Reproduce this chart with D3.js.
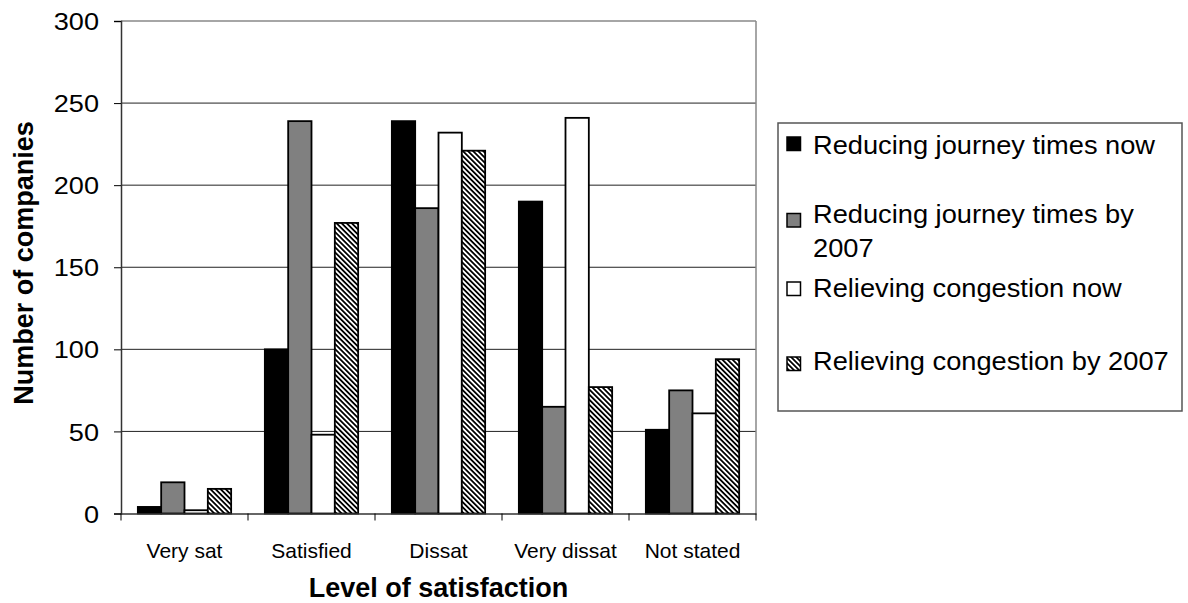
<!DOCTYPE html>
<html><head><meta charset="utf-8">
<script src="https://cdn.jsdelivr.net/npm/d3@7/dist/d3.min.js"></script>
<style>body{margin:0;background:#fff}svg{display:block;font-family:"Liberation Sans",Arial,sans-serif}</style>
</head><body><svg id="c" width="1188" height="603"></svg>
<script>
const categories = ["Very sat","Satisfied","Dissat","Very dissat","Not stated"];
const seriesNames = ["Reducing journey times now","Reducing journey times by 2007","Relieving congestion now","Relieving congestion by 2007"];
const reducingNow   = [4, 100, 239, 190, 51];
const reducing2007  = [19, 239, 186, 65, 75];
const relievingNow  = [2, 48, 232, 241, 61];
const relieving2007 = [15, 177, 221, 77, 94];
const yTicks = [0,50,100,150,200,250,300];
const legendLines = [["Reducing journey times now"],["Reducing journey times by","2007"],["Relieving congestion now"],["Relieving congestion by 2007"]];

const seriesValues = [reducingNow, reducing2007, relievingNow, relieving2007];
const fills = ["#000000","#808080","#ffffff","url(#hatch)"];

const svg = d3.select("#c");
const defs = svg.append("defs");
const pat = defs.append("pattern").attr("id","hatch").attr("patternUnits","userSpaceOnUse")
  .attr("width",3.6).attr("height",3.6).attr("patternTransform","rotate(-45)");
pat.append("rect").attr("width",3.6).attr("height",3.6).attr("fill","#fff");
pat.append("rect").attr("x",0).attr("y",0).attr("width",1.8).attr("height",3.6).attr("fill","#000");

const L=121, R=756, T=21, B=513.5;
const x = d3.scaleBand().domain(categories).range([L,R]);
const xi = d3.scaleBand().domain(d3.range(4)).range([16.85, x.bandwidth()-16.85]);
const y = d3.scaleLinear().domain([0,300]).range([B,T]);

// gridlines
svg.append("g").selectAll("line").data(yTicks.filter(t=>t>0&&t<300)).join("line")
  .attr("x1",L).attr("x2",R).attr("y1",d=>y(d)).attr("y2",d=>y(d))
  .attr("stroke","#222").attr("stroke-width",1);
// top and right border
svg.append("line").attr("x1",L).attr("x2",R).attr("y1",y(300)).attr("y2",y(300)).attr("stroke","#888").attr("stroke-width",1.5);
svg.append("line").attr("x1",R).attr("x2",R).attr("y1",T).attr("y2",B).attr("stroke","#888").attr("stroke-width",1.5);

// bars
const rows = [];
categories.forEach((c,ci)=>seriesValues.forEach((s,si)=>rows.push({c,si,v:s[ci]})));
svg.append("g").selectAll("rect").data(rows).join("rect")
  .attr("x",d=>x(d.c)+xi(d.si)).attr("width",xi.bandwidth())
  .attr("y",d=>y(d.v)).attr("height",d=>B-y(d.v))
  .attr("fill",d=>fills[d.si]).attr("stroke","#000").attr("stroke-width",1.8);

// y axis
const yAxis = d3.axisLeft(y).tickValues(yTicks).tickSize(7).tickPadding(15);
const ya = svg.append("g").attr("transform",`translate(${L},0)`).call(yAxis);
ya.select(".domain").attr("stroke","#333").attr("stroke-width",1.5);
ya.selectAll(".tick line").attr("stroke","#000");
ya.selectAll(".tick text").attr("font-size",24).attr("fill","#000")
  .attr("font-family","'Liberation Sans',Arial,sans-serif")
  .attr("transform","scale(1.13,1)").attr("dy","0.36em").attr("x",-22/1.13);

// x axis
const xAxis = d3.axisBottom(x).tickSize(0).tickPadding(0);
const xa = svg.append("g").attr("transform",`translate(0,${B})`).call(xAxis);
xa.select(".domain").attr("stroke","#333").attr("stroke-width",1.5);
xa.selectAll(".tick text").attr("font-size",21).attr("fill","#000")
  .attr("font-family","'Liberation Sans',Arial,sans-serif").attr("y",44).attr("dy",0);
// category separators
svg.append("g").selectAll("line").data(categories.map(c=>x(c)).concat([R])).join("line")
  .attr("x1",d=>d).attr("x2",d=>d).attr("y1",B).attr("y2",B+7).attr("stroke","#000");

// axis titles
svg.append("text").attr("x",(L+R)/2).attr("y",597).attr("text-anchor","middle")
  .attr("font-size",27).attr("font-weight","bold").text("Level of satisfaction");
svg.append("text").attr("transform","translate(33,263) rotate(-90)").attr("text-anchor","middle")
  .attr("font-size",27).attr("font-weight","bold").text("Number of companies");

// legend
const lg = svg.append("g");
lg.append("rect").attr("x",778).attr("y",123).attr("width",404).attr("height",288)
  .attr("fill","#fff").attr("stroke","#555").attr("stroke-width",1.5);
const sqY = [137, 213.5, 282, 357];
const baseY = [154, 223, 297, 370];
legendLines.forEach((lines,i)=>{
  lg.append("rect").attr("x",787).attr("y",sqY[i]).attr("width",13.5).attr("height",13.5)
    .attr("fill",fills[i]).attr("stroke","#000").attr("stroke-width",1.5);
  const t = lg.append("text").attr("font-size",25).attr("fill","#000")
    .attr("transform",`translate(813,${baseY[i]}) scale(1.09,1)`);
  lines.forEach((ln,j)=>t.append("tspan").attr("x",0).attr("y",j*34).text(ln));
});
</script></body></html>
